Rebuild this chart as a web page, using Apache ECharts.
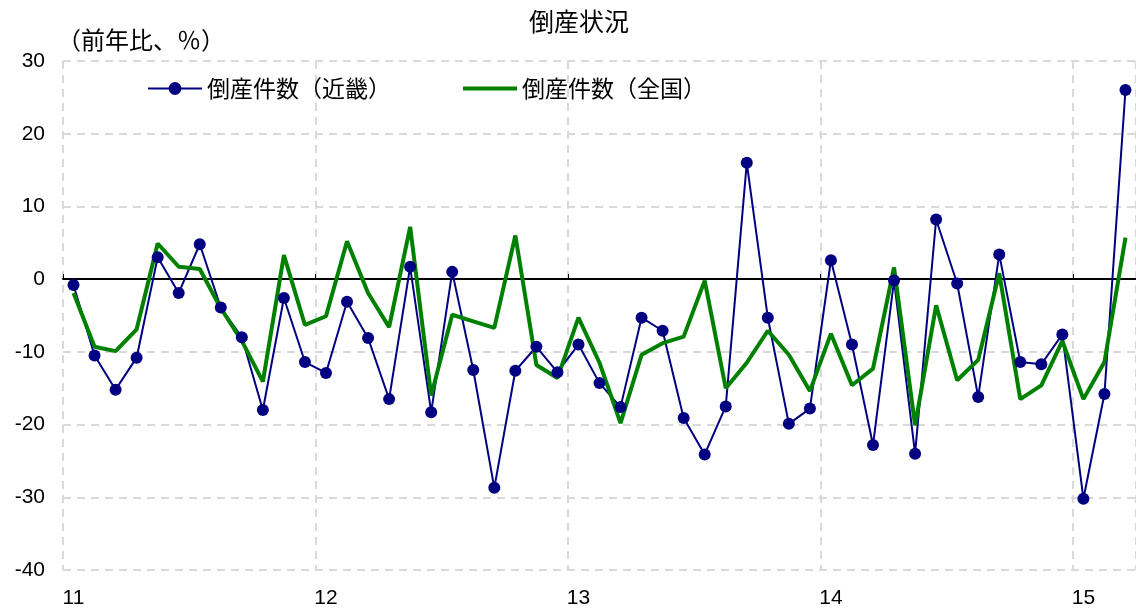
<!DOCTYPE html>
<html>
<head>
<meta charset="utf-8">
<script src="https://cdn.jsdelivr.net/npm/echarts@6/dist/echarts.min.js"></script>
<style>
  html, body { margin: 0; padding: 0; background: #fff; }
  #chart { width: 1136px; height: 613px; }
</style>
</head>
<body>
<div id="chart"></div>
<script>
// 月次 (2011/01 - 2015/03)
const months = [
    "2011-01", "2011-02", "2011-03", "2011-04", "2011-05", "2011-06", "2011-07", "2011-08", "2011-09", "2011-10", "2011-11", "2011-12",
    "2012-01", "2012-02", "2012-03", "2012-04", "2012-05", "2012-06", "2012-07", "2012-08", "2012-09", "2012-10", "2012-11", "2012-12",
    "2013-01", "2013-02", "2013-03", "2013-04", "2013-05", "2013-06", "2013-07", "2013-08", "2013-09", "2013-10", "2013-11", "2013-12",
    "2014-01", "2014-02", "2014-03", "2014-04", "2014-05", "2014-06", "2014-07", "2014-08", "2014-09", "2014-10", "2014-11", "2014-12",
    "2015-01", "2015-02", "2015-03"
];

// 倒産件数（近畿） 前年比 %
const kinkiData = [
    -0.8, -10.5, -15.2, -10.8, 3.0, -1.9, 4.8, -3.9, -8.0, -18.0, -2.6, -11.4,
    -12.9, -3.1, -8.1, -16.5, 1.7, -18.3, 1.0, -12.5, -28.7, -12.6, -9.3, -12.8,
    -9.0, -14.3, -17.6, -5.3, -7.1, -19.1, -24.1, -17.5, 16.0, -5.3, -19.9, -17.8,
    2.6, -9.0, -22.8, -0.2, -24.0, 8.2, -0.6, -16.2, 3.4, -11.4, -11.7, -7.6,
    -30.2, -15.8, 26.0
];

// 倒産件数（全国） 前年比 %
const zenkokuData = [
    -1.9, -9.3, -9.9, -6.9, 4.9, 1.7, 1.4, -4.0, -8.5, -14.1, 3.3, -6.3,
    -5.1, 5.2, -1.9, -6.6, 7.2, -16.0, -4.9, -5.8, -6.7, 6.0, -11.8, -13.6,
    -5.3, -11.5, -19.8, -10.4, -8.8, -7.9, -0.2, -15.0, -11.5, -7.1, -10.4, -15.4,
    -7.5, -14.6, -12.3, 1.6, -20.1, -3.6, -13.9, -11.1, 0.8, -16.5, -14.6, -8.5,
    -16.5, -11.4, 5.7
];

const jpFont = "'Noto Sans CJK JP', sans-serif";
const numFont = "'Liberation Sans', Arial, sans-serif";
const gridLine = { color: "#d9d9d9", width: 2, type: [8, 6] };

// 1月だけに目盛り・ラベルを出す
const everyJan = function (idx) { return idx % 12 === 0; };

const chart = echarts.init(document.getElementById("chart"));
const option = {
    animation: false,
    title: {
        text: "倒産状況",
        left: 529,
        top: 9,
        padding: 0,
        textStyle: { fontFamily: jpFont, fontSize: 25, fontWeight: "normal", color: "#000" }
    },
    legend: {
        data: [
            { name: "倒産件数（近畿）" },
            { name: "倒産件数（全国）", icon: "path://M0,0L56,0L56,4L0,4Z" }
        ],
        left: 147,
        top: 77,
        padding: 0,
        itemWidth: 54,
        itemHeight: 16,
        itemGap: 72,
        textStyle: { fontFamily: jpFont, fontSize: 23, color: "#000" }
    },
    grid: {
        left: 63,
        right: 0,
        top: 61,
        bottom: 43,
        containLabel: false
    },
    xAxis: [
        {
            type: "category",
            data: months,
            boundaryGap: true,
            axisLine: { show: false, onZero: false },
            axisTick: { show: false },
            axisLabel: {
                interval: everyJan,
                margin: 18,
                fontFamily: numFont,
                fontSize: 21,
                color: "#000",
                formatter: function (v) { return v.slice(2, 4); }
            },
            splitLine: { show: true, interval: everyJan, lineStyle: gridLine }
        },
        {
            // ゼロ線
            type: "category",
            data: months,
            boundaryGap: true,
            position: "bottom",
            axisLine: { show: true, onZero: true, lineStyle: { color: "#000", width: 2 } },
            axisTick: { show: true, inside: true, length: 5, interval: everyJan, lineStyle: { color: "#000", width: 1 } },
            axisLabel: { show: false },
            splitLine: { show: false }
        }
    ],
    yAxis: {
        type: "value",
        min: -40,
        max: 30,
        interval: 10,
        name: "（前年比、％）",
        nameLocation: "end",
        nameGap: 9,
        nameTextStyle: { fontFamily: jpFont, fontSize: 24, color: "#000", align: "left", padding: [0, 0, 0, -6] },
        axisLine: { show: false },
        axisTick: { show: false },
        axisLabel: { margin: 18, fontFamily: numFont, fontSize: 21, color: "#000" },
        splitLine: { show: true, lineStyle: gridLine }
    },
    series: [
        {
            name: "倒産件数（近畿）",
            type: "line",
            xAxisIndex: 0,
            data: kinkiData,
            symbol: "circle",
            symbolSize: 12,
            itemStyle: { color: "#000080" },
            lineStyle: { color: "#000080", width: 2 }
        },
        {
            name: "倒産件数（全国）",
            type: "line",
            xAxisIndex: 0,
            data: zenkokuData,
            symbol: "none",
            itemStyle: { color: "#008000" },
            lineStyle: { color: "#008000", width: 4 }
        }
    ]
};
chart.setOption(option);
</script>
</body>
</html>
